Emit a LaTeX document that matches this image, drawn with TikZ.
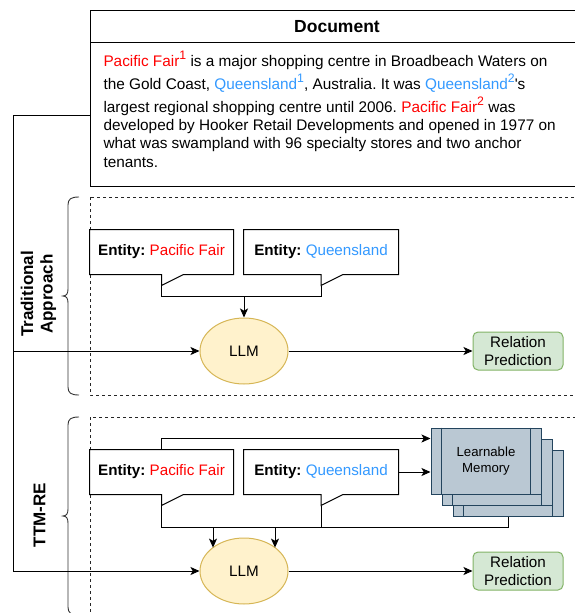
\documentclass[tikz,border=0pt]{standalone}
\usepackage{fontspec}
\setmainfont{Liberation Sans}[Ligatures=TeXOff]
\usetikzlibrary{arrows.meta,calc,shapes.geometric}
\frenchspacing
\definecolor{pfred}{HTML}{FF0000}
\definecolor{qblue}{HTML}{3399FF}
\definecolor{llmfill}{HTML}{FFF2CC}
\definecolor{llmdraw}{HTML}{D6B656}
\definecolor{rpfill}{HTML}{D5E8D4}
\definecolor{rpdraw}{HTML}{82B366}
\definecolor{memfill}{HTML}{BAC8D3}
\definecolor{memdraw}{HTML}{23445D}
\newcommand{\supn}[2]{\raisebox{6.8pt}{\fontsize{12.3}{12.3}\selectfont\textcolor{#1}{#2}}}
\newcommand{\PF}{\textcolor{pfred}{Pacific Fair}}
\newcommand{\QL}{\textcolor{qblue}{Queensland}}
\newcommand{\callout}[1]{\draw[fill=white] (#1.north west) -- (#1.north east) -- (#1.south east) -- ($(#1.south)+(22,0)$) -- ($(#1.south)+(0,11)$) -- (#1.south) -- (#1.south west) -- cycle;}
\newcommand{\memlines}[1]{\draw[memdraw] ($(#1.north west)+(11,0)$) -- ($(#1.south west)+(11,0)$); \draw[memdraw] ($(#1.north east)+(-11,0)$) -- ($(#1.south east)+(-11,0)$);}
\begin{document}
\begin{tikzpicture}[x=1pt,y=-1pt,line width=1pt,
  body/.style={font=\fontsize{15.35}{18}\selectfont\frenchspacing,inner sep=0pt,anchor=base west},
  arr/.style={-{Stealth[length=9pt,width=8pt,inset=2.2pt]}},
  dbox/.style={draw=black!85,dashed,dash pattern=on 3pt off 3pt,line width=0.8pt},
  brace/.style={draw=black!80,line width=0.9pt},
  vlabel/.style={font=\fontsize{17}{19.5}\selectfont\bfseries,rotate=90,align=center,inner sep=0pt},
  entbox/.style={minimum width=#1,minimum height=44pt,inner sep=0pt,font=\fontsize{15.2}{15.7}\selectfont},
  etext/.style={font=\fontsize{15.2}{15.7}\selectfont,inner sep=0pt},
  llm/.style={ellipse,draw=llmdraw,fill=llmfill,minimum width=88pt,minimum height=66pt,inner sep=0pt,font=\fontsize{15.2}{15.7}\selectfont},
  rp/.style={draw=rpdraw,fill=rpfill,rounded corners=5pt,minimum width=90pt,minimum height=38pt,inner sep=0pt,align=center,font=\fontsize{15.2}{18}\selectfont},
  membox/.style={draw=memdraw,fill=memfill,minimum width=110pt,minimum height=66pt,inner sep=0pt,align=center,font=\fontsize{13.2}{16}\selectfont}]
\useasboundingbox (0,0) rectangle (575,613);
\clip (0,0) rectangle (575,613);

% Document box
\draw (90,10) rectangle (584,186);
\draw (90,42.5) -- (584,42.5);
\node[font=\fontsize{17.5}{20}\selectfont\bfseries,anchor=base,inner sep=0pt] (title) at (337,32.7) {Document};
\node[body] (t1) at (103,66) {\PF\supn{pfred}{1} is a major shopping centre in Broadbeach Waters on};
\node[body] (t2) at (103,89) {the Gold Coast, \QL\supn{qblue}{1}, Australia. It was \QL\supn{qblue}{2}'s};
\node[body] (t3) at (103,112.5) {largest regional shopping centre until 2006. \PF\supn{pfred}{2} was};
\node[body] (t4) at (103,130) {developed by Hooker Retail Developments and opened in 1977 on};
\node[body] (t5) at (103,148.5) {what was swampland with 96 specialty stores and two anchor};
\node[body] (t6) at (103,167) {tenants.};
\coordinate (docL) at (90,115);
\coordinate (bend) at (13,115);
\coordinate (split) at (13,351);

% Traditional section
\draw[dbox] (90,197) rectangle (590,395);
\draw[brace] (79,197) .. controls (71,197) and (68,199) .. (68,205) -- (68,289) .. controls (68,293.5) and (66.5,296) .. (63,296) .. controls (66.5,296) and (68,298.5) .. (68,303) -- (68,387) .. controls (68,393) and (71,395) .. (79,395);
\node[vlabel] (lab1) at (38.5,294) {Traditional\\Approach};

\node[entbox=143pt] (e1) at (161.5,252) {};
\node[entbox=154pt] (e2) at (321,252) {};
\callout{e1}
\callout{e2}
\node[etext] (e1txt) at (e1) {\textbf{Entity:} \textcolor{pfred}{Pacific Fair}};
\node[etext] (e2txt) at (e2) {\textbf{Entity:} \textcolor{qblue}{Queensland}};
\coordinate (e1t) at ($(e1.south)+(0,11)$);
\coordinate (e2t) at ($(e2.south)+(0,11)$);
\node[llm] (llm1) at (244,351) {LLM};
\node[rp] (rp1) at (518,351) {Relation\\Prediction};
\coordinate (j1) at (244,296.5);
\draw (e1t) |- (j1) -| (e2t);
\draw[arr] (j1) -- (llm1.north);
\draw[arr] (llm1.east) -- (rp1.west);

% TTM-RE section
\draw[dbox] (90,417) rectangle (590,640);
\draw[brace] (79,417) .. controls (71,417) and (68,419) .. (68,425) -- (68,509) .. controls (68,513.5) and (66.5,516) .. (63,516) .. controls (66.5,516) and (68,518.5) .. (68,523) -- (68,607) .. controls (68,613) and (71,615) .. (79,615);
\node[vlabel] (lab2) at (39.5,515) {TTM-RE};

\node[membox] (m3) at (508,483) {};
\memlines{m3}
\node[membox] (m2) at (497,472) {};
\memlines{m2}
\node[membox] (m1) at (486,461) {Learnable\\Memory};
\memlines{m1}

\node[entbox=143pt] (f1) at (161.5,472) {};
\node[entbox=154pt] (f2) at (321,472) {};
\callout{f1}
\callout{f2}
\node[etext] (f1txt) at (f1) {\textbf{Entity:} \textcolor{pfred}{Pacific Fair}};
\node[etext] (f2txt) at (f2) {\textbf{Entity:} \textcolor{qblue}{Queensland}};
\coordinate (f1t) at ($(f1.south)+(0,11)$);
\coordinate (f2t) at ($(f2.south)+(0,11)$);
\node[llm] (llm2) at (244,571) {LLM};
\node[rp] (rp2) at (518,571) {Relation\\Prediction};

\coordinate (mtop) at ($(m1.north west)+(0,11)$);
\draw[arr] (f1.north) |- (mtop);
\draw[arr] (f2.east) -- (f2.east -| m1.west);
\coordinate (jb) at (161.5,527);
\draw (m3.south) |- (jb) -- (f1t);
\draw (f2t) -- (f2t |- jb);
\coordinate (a1s) at (213,527);
\coordinate (a2s) at (275,527);
\coordinate (a1e) at (213,547.6);
\coordinate (a2e) at (275,547.6);
\draw[arr] (a1s) -- (a1e);
\draw[arr] (a2s) -- (a2e);
\draw[arr] (llm2.east) -- (rp2.west);

% left feed line
\draw[arr] (docL) -- (bend) |- (llm2.west);
\draw[arr] (split) -- (llm1.west);
\end{tikzpicture}
\end{document}
